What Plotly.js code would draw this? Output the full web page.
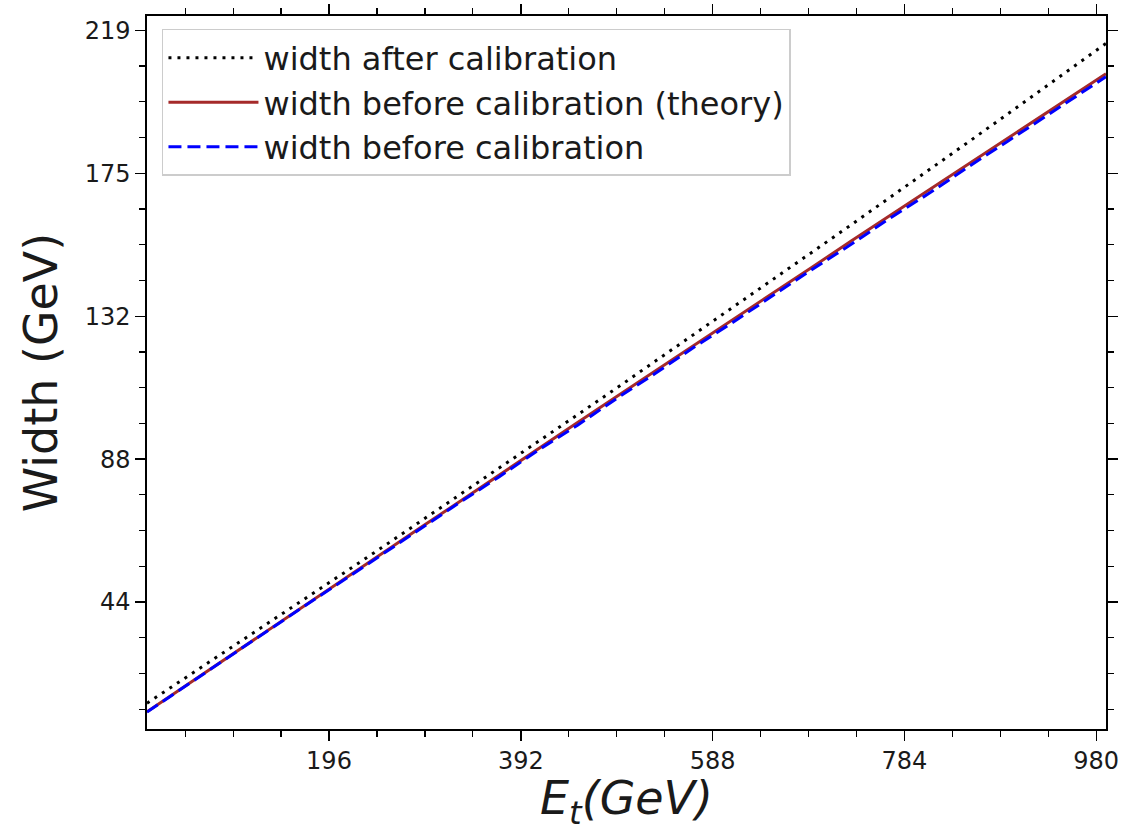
<!DOCTYPE html>
<html>
<head>
<meta charset="utf-8">
<script src="https://cdn.plot.ly/plotly-3.0.1.min.js"></script>
<style>html,body{margin:0;padding:0;background:#fff;}#chart{width:1125px;height:832px;}</style>
</head>
<body>
<div id="chart"></div>
<script>
// Energy E_t (GeV)
const energy = [10, 50, 90, 130, 170, 210, 250, 290, 330, 370, 410, 450, 490, 530, 570, 610, 650, 690, 730, 770, 810, 850, 890, 930, 970, 990];
// width after calibration (GeV)
const widthAfter = [12.8, 20.7, 28.6, 36.5, 44.5, 52.5, 60.5, 68.6, 76.7, 84.9, 93.0, 101.2, 109.4, 117.7, 126.0, 134.3, 142.7, 151.1, 159.5, 167.9, 176.4, 184.9, 193.5, 202.1, 210.7, 215.0];
// width before calibration, theory (GeV)
const widthTheory = [10.2, 18.3, 26.4, 34.5, 42.6, 50.6, 58.7, 66.7, 74.7, 82.8, 90.8, 98.8, 106.8, 114.7, 122.7, 130.7, 138.6, 146.5, 154.5, 162.4, 170.3, 178.2, 186.0, 193.9, 201.8, 205.7];
// width before calibration, measured (GeV)
const widthBefore = [10.1, 18.2, 26.3, 34.3, 42.4, 50.3, 58.4, 66.3, 74.4, 82.2, 90.4, 98.0, 106.2, 114.0, 122.1, 129.8, 137.9, 145.8, 153.5, 161.6, 169.2, 177.3, 185.1, 192.9, 200.9, 204.8];

const seriesNames = ['width after calibration', 'width before calibration (theory)', 'width before calibration'];

const xTickVals = [196, 392, 588, 784, 980];
const xTickText = ['196', '392', '588', '784', '980'];
const yTickVals = [43.8, 87.6, 131.4, 175.2, 219.0];
const yTickText = ['44', '88', '132', '175', '219'];

const FONT = 'DejaVu Sans, sans-serif';

const traces = [
  {x: energy, y: widthAfter, name: seriesNames[0], mode: 'lines',
   line: {color: '#000000', width: 3, dash: '3px,6px'}},
  {x: energy, y: widthTheory, name: seriesNames[1], mode: 'lines',
   line: {color: '#a52a2a', width: 3}},
  {x: energy, y: widthBefore, name: seriesNames[2], mode: 'lines',
   line: {color: '#0000ff', width: 3, dash: '13px,6px'}}
];

const axisCommon = {
  showgrid: false, zeroline: false, showline: true, linecolor: '#000', linewidth: 1.6,
  mirror: 'ticks', ticks: 'outside', ticklen: 10, tickwidth: 1.4, tickcolor: '#000',
  tickfont: {family: FONT, size: 24, color: '#1a1a1a'}
};

const layout = {
  width: 1125, height: 832,
  margin: {l: 147, r: 19, t: 16, b: 103},
  paper_bgcolor: '#fff', plot_bgcolor: '#fff',
  showlegend: true,
  xaxis: Object.assign({}, axisCommon, {
    range: [10, 990], tickmode: 'array', tickvals: xTickVals, ticktext: xTickText,
    minor: {tickmode: 'linear', tick0: 0, dtick: 49, ticks: 'outside', ticklen: 6, tickwidth: 1.2, tickcolor: '#000'},
    title: {text: '<i>E</i><sub><i>t</i></sub><i>(GeV)</i>', font: {family: FONT, size: 46, color: '#1a1a1a'}, standoff: 18}
  }),
  yaxis: Object.assign({}, axisCommon, {
    range: [4.9, 223.4], tickmode: 'array', tickvals: yTickVals, ticktext: yTickText,
    minor: {tickmode: 'linear', tick0: 0, dtick: 10.95, ticks: 'outside', ticklen: 6, tickwidth: 1.2, tickcolor: '#000'},
    title: {text: 'Width (GeV)', font: {family: FONT, size: 46, color: '#1a1a1a'}, standoff: 12}
  }),
  legend: {
    x: 0.0156, y: 0.982, xanchor: 'left', yanchor: 'top',
    bgcolor: 'rgba(255,255,255,0.85)', bordercolor: '#cccccc', borderwidth: 1.5,
    font: {family: FONT, size: 32, color: '#1a1a1a'},
    itemwidth: 90, tracegroupgap: 0
  }
};

Plotly.newPlot('chart', traces, layout, {staticPlot: true, displayModeBar: false});
</script>
</body>
</html>
